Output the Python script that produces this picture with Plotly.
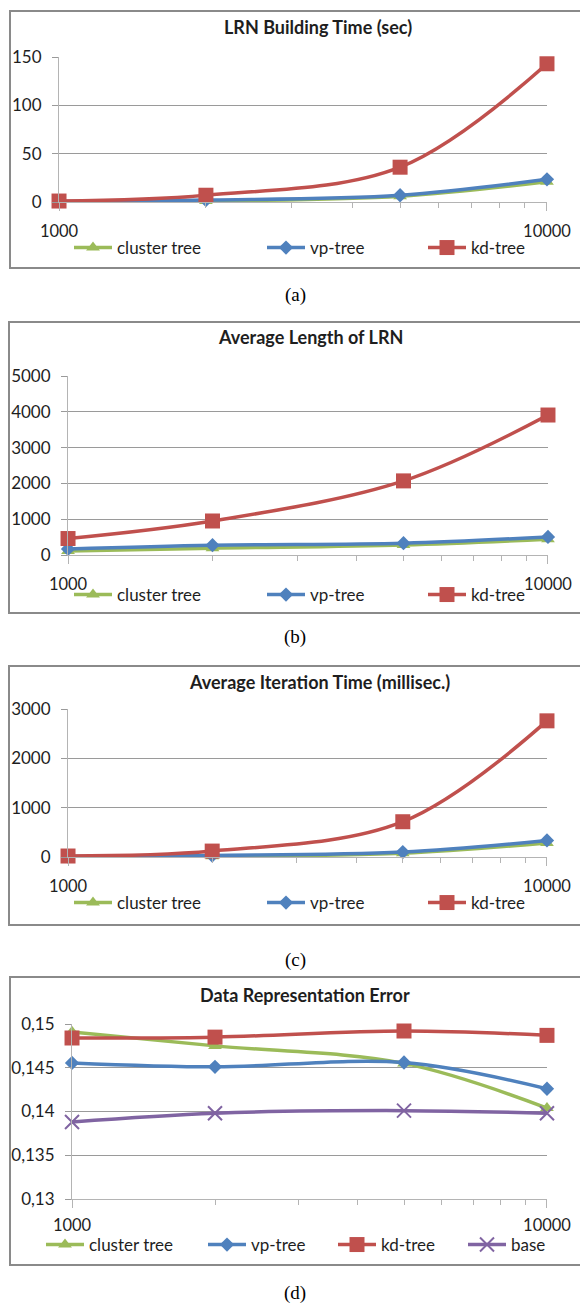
import plotly.graph_objects as go

# ---- data -------------------------------------------------------------
sizes = [1000, 2000, 5000, 10000]

build_cluster = [0.3, 1.0, 6.0, 21.0]
build_vp = [0.6, 2.0, 7.0, 23.5]
build_kd = [1.0, 7.0, 36.0, 143.0]

length_cluster = [110, 190, 280, 440]
length_vp = [170, 275, 330, 505]
length_kd = [460, 950, 2070, 3910]

iter_cluster = [5, 15, 75, 285]
iter_vp = [10, 30, 100, 335]
iter_kd = [20, 120, 715, 2760]

err_cluster = [0.1491, 0.1475, 0.1455, 0.1404]
err_vp = [0.14555, 0.1451, 0.1456, 0.1426]
err_kd = [0.1484, 0.1485, 0.1492, 0.1487]
err_base = [0.1388, 0.1398, 0.1401, 0.1398]

titles = ["LRN Building Time (sec)", "Average Length of LRN",
          "Average Iteration Time (millisec.)", "Data Representation Error"]
panel_labels = ["(a)", "(b)", "(c)", "(d)"]
err_ticks = [0.13, 0.135, 0.14, 0.145, 0.15]
err_ticktext = ["0,13", "0,135", "0,14", "0,145", "0,15"]

# ---- page geometry (pixels) ------------------------------------------
W, H = 580, 1305


def fx(px):
    return px / W


def fy(py):
    return 1 - py / H


GREEN, BLUE, RED, PURPLE = "#9BBB59", "#4F81BD", "#C0504D", "#8064A2"
GRID = "#9a9a9a"
AXLINE = "#b4b4b4"
FRAME = "#8a8a8a"
TXT = "#1e1e1e"
FONT = "Lato"
FS = 17

# plot areas: (x_left, x_right, y_top, y_bottom) in pixels
areas = [
    (59, 547, 57, 202),
    (68, 548, 376, 555),
    (68, 547, 709, 857),
    (72, 547, 1024, 1199),
]
frames = [(10, 582, 11, 268), (9, 582, 322, 613), (9, 582, 666, 925), (10, 582, 977, 1265)]
title_pos = [(318, 27), (310, 337), (319, 682), (305, 995)]
label_y = [295, 637, 960, 1293]
legend_y = [248, 595, 903, 1245]
xlabel_standoff = [6, 6, 6, 3]
legend_x3 = [74, 267, 428]
legend_x4 = [46, 208, 338, 468]

yranges = [[0, 150], [0, 5000], [0, 3000], [0.13, 0.15]]
ydticks = [50, 1000, 1000, None]

series = [
    [("cluster tree", build_cluster, GREEN, "triangle-up"),
     ("vp-tree", build_vp, BLUE, "diamond"),
     ("kd-tree", build_kd, RED, "square")],
    [("cluster tree", length_cluster, GREEN, "triangle-up"),
     ("vp-tree", length_vp, BLUE, "diamond"),
     ("kd-tree", length_kd, RED, "square")],
    [("cluster tree", iter_cluster, GREEN, "triangle-up"),
     ("vp-tree", iter_vp, BLUE, "diamond"),
     ("kd-tree", iter_kd, RED, "square")],
    [("cluster tree", err_cluster, GREEN, "triangle-up"),
     ("vp-tree", err_vp, BLUE, "diamond"),
     ("kd-tree", err_kd, RED, "square"),
     ("base", err_base, PURPLE, "x-thin")],
]
marker_sizes = {"triangle-up": 12, "diamond": 11, "square": 15, "x-thin": 14}

fig = go.Figure()
layout = dict(
    width=W, height=H,
    margin=dict(l=0, r=0, t=0, b=0, pad=0, autoexpand=False),
    paper_bgcolor="white", plot_bgcolor="white",
    font=dict(family=FONT, size=FS, color=TXT),
    showlegend=True,
    shapes=[], annotations=[],
)

leg_count = 0
LEG_DX = -5  # legend symbol line begins 5px into the item
for p in range(4):
    xl, xr, yt, yb = areas[p]
    sfx = "" if p == 0 else str(p + 1)
    xname, yname = "x" + sfx, "y" + sfx

    layout["xaxis" + sfx] = dict(
        type="log", domain=[fx(xl), fx(xr)], range=[2.99995, 4.00005], anchor=yname,
        tickvals=[1000, 10000], ticktext=["1000", "10000"],
        ticks="outside", ticklen=8, tickcolor=AXLINE, tickwidth=1,
        showgrid=False, zeroline=False, showline=True, linecolor=AXLINE, linewidth=1,
        minor=dict(tickvals=[2000, 3000, 4000, 5000, 6000, 7000, 8000, 9000],
                   ticks="outside", ticklen=5, tickcolor=AXLINE, showgrid=False),
        tickfont=dict(family=FONT, size=16.5, color=TXT),
        ticklabelstandoff=xlabel_standoff[p], automargin=False, fixedrange=True,
    )
    yax = dict(
        domain=[fy(yb), fy(yt)], range=yranges[p], anchor=xname,
        showgrid=True, gridcolor=GRID, gridwidth=1, zeroline=False,
        showline=True, linecolor=AXLINE, linewidth=1,
        ticks="outside", ticklen=6, tickcolor=GRID,
        tickfont=dict(family=FONT, size=FS, color=TXT),
        ticklabelstandoff=7, automargin=False, fixedrange=True,
    )
    if ydticks[p] is None:
        yax.update(tickmode="array", tickvals=err_ticks, ticktext=err_ticktext)
    else:
        yax.update(tickmode="linear", tick0=0, dtick=ydticks[p])
    layout["yaxis" + sfx] = yax

    xs = legend_x3 if len(series[p]) == 3 else legend_x4
    for k, (name, vals, col, sym) in enumerate(series[p]):
        leg_count += 1
        lname = "legend" if leg_count == 1 else "legend%d" % leg_count
        mk = dict(symbol=sym, size=marker_sizes[sym], color=col)
        if sym == "x-thin":
            mk["line"] = dict(color=col, width=2)
        fig.add_trace(go.Scatter(
            x=sizes, y=vals, name=name, mode="lines+markers",
            xaxis=xname, yaxis=yname,
            line=dict(color=col, width=3.5, shape="spline"),
            marker=mk, cliponaxis=False, legend=lname, showlegend=True,
        ))
        layout[lname] = dict(
            x=fx(xs[k] + LEG_DX), y=fy(legend_y[p]), xanchor="left", yanchor="middle",
            orientation="h", bgcolor="rgba(0,0,0,0)", borderwidth=0, itemwidth=38,
            font=dict(family=FONT, size=FS, color=TXT), visible=True,
        )

    fl, fr, ft, fb = frames[p]
    layout["shapes"].append(dict(
        type="rect", xref="paper", yref="paper",
        x0=fx(fl), x1=fx(fr), y0=fy(fb), y1=fy(ft),
        line=dict(color=FRAME, width=2), fillcolor="rgba(0,0,0,0)", layer="below",
    ))
    tx, ty = title_pos[p]
    layout["annotations"].append(dict(
        text="<b>%s</b>" % titles[p], xref="paper", yref="paper",
        x=fx(tx), y=fy(ty), xanchor="center", yanchor="middle", showarrow=False,
        font=dict(family=FONT, size=18, color=TXT),
    ))
    layout["annotations"].append(dict(
        text=panel_labels[p], xref="paper", yref="paper",
        x=fx(295), y=fy(label_y[p]), xanchor="center", yanchor="middle", showarrow=False,
        font=dict(family="Liberation Serif", size=19, color="#000000"),
    ))

fig.update_layout(**layout)
fig.write_html("out.html")
